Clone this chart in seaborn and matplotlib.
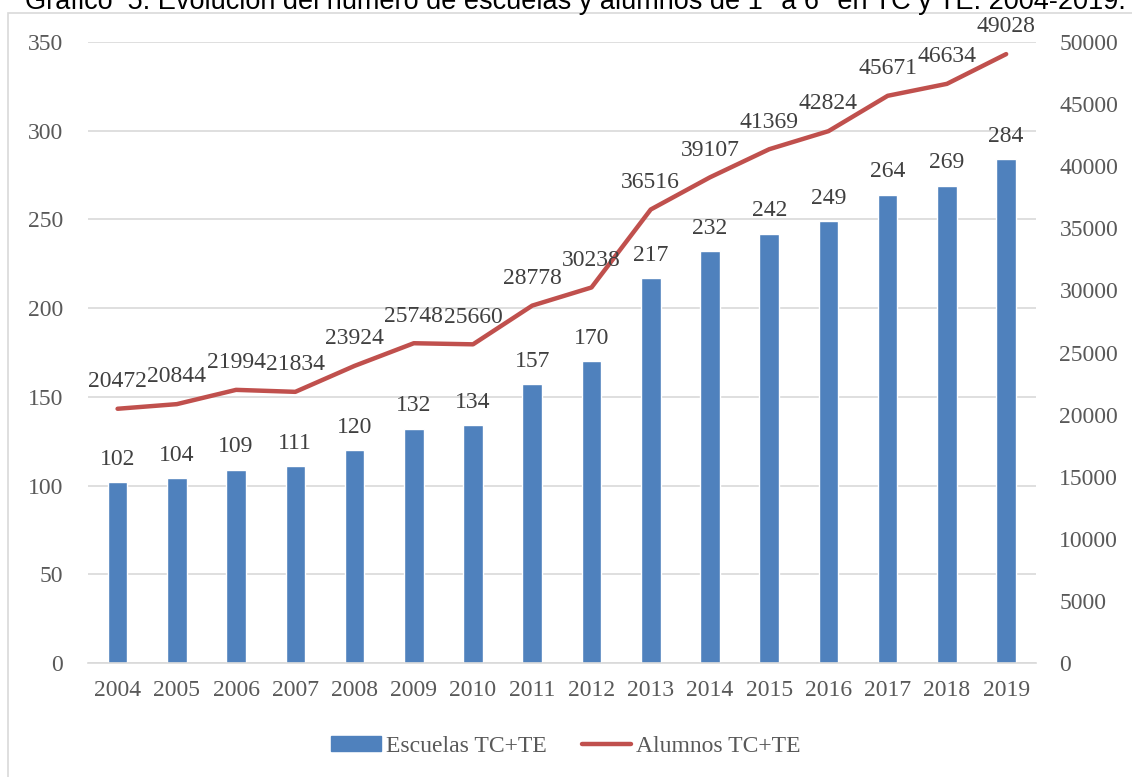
import matplotlib
matplotlib.use('Agg')
import matplotlib.pyplot as plt
import matplotlib.patches as mpatches
from matplotlib.lines import Line2D
import seaborn as sns
import numpy as np
import pandas as pd

years = ['2004', '2005', '2006', '2007', '2008', '2009', '2010', '2011',
         '2012', '2013', '2014', '2015', '2016', '2017', '2018', '2019']
escuelas = [102, 104, 109, 111, 120, 132, 134, 157, 170, 217, 232, 242, 249, 264, 269, 284]
alumnos = [20472, 20844, 21994, 21834, 23924, 25748, 25660, 28778, 30238, 36516,
           39107, 41369, 42824, 45671, 46634, 49028]

bar_color = '#4f81bd'
line_color = '#c0504d'
text_color = '#595959'
label_color = '#404040'
serif = 'Liberation Serif'
fs = 17

sns.set_style('white')
plt.rcParams['font.family'] = [serif, 'DejaVu Serif']

df = pd.DataFrame({'year': years, 'escuelas': escuelas, 'alumnos': alumnos})

fig = plt.figure(figsize=(11.32, 7.77), dpi=100)
ax = fig.add_axes([0.0777, 0.1467, 0.915 - 0.0777, 0.9459 - 0.1467])

sns.barplot(data=df, x='year', y='escuelas', color=bar_color, saturation=1,
            width=0.33, ax=ax, zorder=2)
ax.set_ylim(0, 350)
ax.set_xlim(-0.5, len(years) - 0.5)
ax.set_yticks(range(0, 351, 50))
ax.yaxis.grid(True, color='#d9d9d9', linewidth=1.2, zorder=0)
ax.set_axisbelow(True)
for s in ax.spines.values():
    s.set_visible(False)
ax.spines['bottom'].set_visible(True)
ax.spines['bottom'].set_color('#d9d9d9')
ax.spines['bottom'].set_linewidth(1.2)
ax.set_xlabel('')
ax.set_ylabel('')
ax.tick_params(axis='y', length=0, labelsize=fs, colors=text_color, pad=18)
ax.tick_params(axis='x', length=0, labelsize=fs, colors=text_color, pad=12)

for i, v in enumerate(escuelas):
    ax.annotate(str(v), (i, v), xytext=(0, 9), textcoords='offset points',
                ha='center', va='bottom', fontsize=fs, color=label_color)

ax2 = ax.twinx()
sns.lineplot(x=np.arange(len(years)), y=alumnos, color=line_color, linewidth=3.2,
             ax=ax2, solid_capstyle='round')
ax2.set_ylim(0, 50000)
ax2.set_yticks(range(0, 50001, 5000))
for s in ax2.spines.values():
    s.set_visible(False)
ax2.tick_params(axis='y', length=0, labelsize=fs, colors=text_color, pad=17)
ax2.set_ylabel('')

for i, v in enumerate(alumnos):
    ax2.annotate(str(v), (i, v), xytext=(0, 12), textcoords='offset points',
                 ha='center', va='bottom', fontsize=fs, color=label_color)

handles = [mpatches.Patch(color=bar_color, label='Escuelas TC+TE'),
           Line2D([0], [0], color=line_color, linewidth=3.2, label='Alumnos TC+TE',
                  solid_capstyle='round')]
leg = fig.legend(handles=handles, loc='center', bbox_to_anchor=(0.5, 1 - 746 / 777),
                 ncol=2, frameon=False, fontsize=fs, handlelength=2.1,
                 handleheight=0.6, columnspacing=1.5, handletextpad=0.2)
for t in leg.get_texts():
    t.set_color(text_color)

# chart border (runs past the right and bottom edges)
fig.patches.append(mpatches.Rectangle((8 / 1132, -10 / 777), 1140 / 1132, 774 / 777,
                                      transform=fig.transFigure, fill=False,
                                      edgecolor='#d9d9d9', linewidth=1.2))

fig.text(0.5 + 9 / 1132, 1 - 9 / 777,
         'Gráfico  5. Evolución del número de escuelas y alumnos de 1° a 6° en TC y TE. 2004-2019.',
         ha='center', va='baseline', fontsize=19.5, color='black',
         family=['Liberation Sans', 'DejaVu Sans'])

fig.savefig('out.png', dpi=100)
